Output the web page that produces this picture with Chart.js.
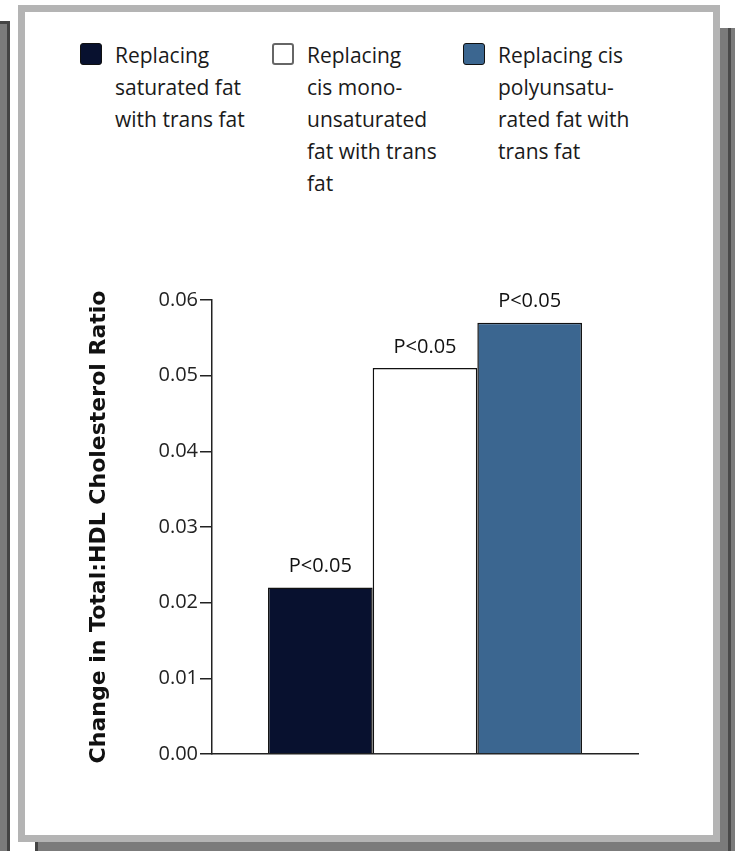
<!DOCTYPE html>
<html>
<head>
<meta charset="utf-8">
<script src="https://cdn.jsdelivr.net/npm/chart.js@4.4.1/dist/chart.umd.min.js"></script>
<style>
  html, body { margin: 0; padding: 0; background: #fff; }
  body { width: 735px; height: 851px; position: relative; overflow: hidden; font-family: "Open Sans", sans-serif; }
  .leftStrip { position: absolute; left: 0; top: 21px; width: 10px; height: 830px; background: #7b7b7b;
               border-top: 3px solid #444; border-right: 3px solid #444; box-sizing: border-box; }
  .backFrame { position: absolute; left: 35px; top: 28px; width: 700px; height: 823px; background: #7b7b7b;
               border-left: 3px solid #444; box-sizing: border-box; }
  .backLine { position: absolute; left: 728px; top: 28px; width: 3px; height: 823px; background: #4a4a4a; }
  .panel { position: absolute; left: 18px; top: 5px; width: 702px; height: 837px; background: #fff;
           border: 7px solid #b4b4b4; box-sizing: border-box; }
  .legend { position: absolute; top: 40px; left: 0; width: 735px; height: 170px; }
  .item { position: absolute; top: 0; }
  .box { position: absolute; top: 3px; left: 0; width: 22px; height: 22px; border-radius: 3px; box-sizing: border-box; }
  .txt { position: absolute; top: -1px; font-size: 21px; line-height: 32px; color: #1a1a1a; white-space: nowrap; }
  #wrap { position: absolute; left: 80px; top: 220px; width: 620px; height: 600px; }
</style>
</head>
<body>
<div class="leftStrip"></div>
<div class="backFrame"></div>
<div class="backLine"></div>
<div class="panel"></div>
<div class="legend" id="legend"></div>
<div id="wrap"><canvas id="chart"></canvas></div>
<script>
// data
const seriesNames = [
  ['Replacing', 'saturated fat', 'with trans fat'],
  ['Replacing', 'cis mono-', 'unsaturated', 'fat with trans', 'fat'],
  ['Replacing cis', 'polyunsatu-', 'rated fat with', 'trans fat']
];
const values = [0.022, 0.051, 0.057];
const pLabels = ['P<0.05', 'P<0.05', 'P<0.05'];
const fillColors = ['#08112f', '#ffffff', '#3b6690'];
const yTicks = [0, 0.01, 0.02, 0.03, 0.04, 0.05, 0.06];
const yTitle = 'Change in Total:HDL Cholesterol Ratio';

// legend (html, multi-line labels)
const legendPos = [80, 272, 463];
const legendEl = document.getElementById('legend');
seriesNames.forEach((lines, i) => {
  const item = document.createElement('div');
  item.className = 'item';
  item.style.left = legendPos[i] + 'px';
  const box = document.createElement('div');
  box.className = 'box';
  box.style.background = fillColors[i];
  box.style.border = i === 1 ? '2px solid #666' : '1px solid #111';
  const txt = document.createElement('div');
  txt.className = 'txt';
  txt.style.left = '35px';
  txt.innerHTML = lines.join('<br>');
  item.appendChild(box);
  item.appendChild(txt);
  legendEl.appendChild(item);
});

const pValuePlugin = {
  id: 'pValues',
  afterDatasetsDraw(chart) {
    const ctx = chart.ctx;
    ctx.save();
    ctx.font = '20px "Open Sans"';
    ctx.fillStyle = '#111';
    ctx.textAlign = 'center';
    ctx.textBaseline = 'middle';
    chart.data.datasets.forEach((ds, i) => {
      const el = chart.getDatasetMeta(i).data[0];
      ctx.fillText(pLabels[i], el.x, el.y - 21);
    });
    ctx.restore();
  }
};

new Chart(document.getElementById('chart'), {
  type: 'bar',
  data: {
    labels: [''],
    datasets: values.map((v, i) => ({
      label: seriesNames[i].join(' '),
      data: [v],
      backgroundColor: fillColors[i],
      borderColor: '#111',
      borderWidth: 1.5,
      borderSkipped: 'bottom'
    }))
  },
  options: {
    responsive: true,
    maintainAspectRatio: false,
    animation: false,
    layout: { padding: { top: 80, right: 62, bottom: 66, left: 0 } },
    plugins: { legend: { display: false }, tooltip: { enabled: false } },
    datasets: { bar: { barPercentage: 1, categoryPercentage: 0.737 } },
    scales: {
      x: {
        ticks: { display: false },
        grid: { display: false, drawTicks: false },
        border: { display: true, color: '#222', width: 1.5 }
      },
      y: {
        min: 0,
        max: 0.06,
        afterBuildTicks: (s) => { s.ticks = yTicks.map(v => ({ value: v })); },
        afterFit: (s) => { s.width = 132; },
        ticks: {
          callback: (v) => Number(v).toFixed(2),
          color: '#222',
          font: { family: 'Open Sans', size: 20 },
          padding: 2
        },
        grid: { drawOnChartArea: false, tickLength: 12, color: '#222', lineWidth: 1.5 },
        border: { display: true, color: '#222', width: 1.5 },
        title: {
          display: true,
          text: yTitle,
          color: '#111',
          font: { family: 'DejaVu Sans', size: 22, weight: 'bold' },
          padding: { top: 6, bottom: 0 }
        }
      }
    }
  },
  plugins: [pValuePlugin]
});
</script>
</body>
</html>
